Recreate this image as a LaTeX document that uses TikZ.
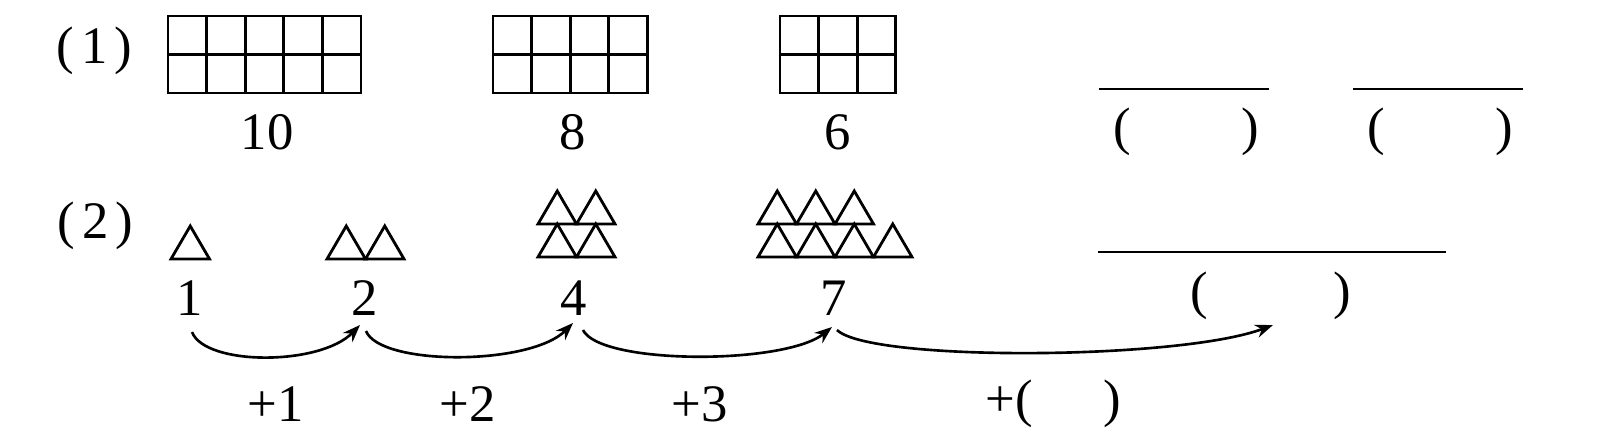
\documentclass[tikz,border=0pt]{standalone}
\usepackage{fontspec}
\setmainfont{Liberation Serif}
\usetikzlibrary{arrows.meta,calc}
\tikzset{
  lbl/.style={anchor=base,inner sep=0pt,font=\fontsize{30}{36}\selectfont},
  ink/.style={line width=1.6pt,line join=miter},
  arc/.style={line width=1.5pt,-{Stealth[length=10pt,width=7.5pt]}},
  blank/.style={line width=1.5pt}
}
\newcommand{\gridbox}[2]{%
  \draw[ink] (#1,16) rectangle ++(#2*38.6,77);
  \draw[ink] (#1,54.5) -- ++(#2*38.6,0);
  \foreach \i in {1,...,#2}{\ifnum\i<#2 \draw[ink] (#1+\i*38.6,16) -- ++(0,77);\fi}%
}
\newcommand{\tri}[2]{\draw[ink] (#1,#2) -- ++(38.5,0) -- ++(-19.25,-33) -- cycle;}
\begin{document}
\begin{tikzpicture}[x=0.02cm,y=-0.02cm]
\fill[white] (0,0) rectangle (1620,433);
\useasboundingbox (0,0) rectangle (1620,433);
% row 1
\node[lbl] (p1) at (94.5,63) {(\hspace{0.13em}1\hspace{0.13em})};
\gridbox{168}{5}
\gridbox{493}{4}
\gridbox{780}{3}
\node[lbl] (c10) at (267,149) {10};
\node[lbl] (c8) at (573,149) {8};
\node[lbl] (c6) at (838,149) {6};
\draw[blank] (1099,89) -- (1269,89);
\draw[blank] (1353,89) -- (1523,89);
\node[lbl] (b1) at (1186.5,144) {(\hspace{2.1em})};
\node[lbl] (b2) at (1440,144) {(\hspace{2.1em})};
% row 2
\node[lbl] (p2) at (95.5,238) {(\hspace{0.13em}2\hspace{0.13em})};
\tri{171}{259}
\tri{327}{259}\tri{365.5}{259}
\tri{538}{257}\tri{576.5}{257}
\tri{538}{224}\tri{576.5}{224}
\foreach \k in {0,1,2,3}{\tri{758+\k*38.5}{257}}
\foreach \k in {0,1,2}{\tri{758+\k*38.5}{224}}
\node[lbl] (n1) at (190,315) {1};
\node[lbl] (n2) at (365,315) {2};
\node[lbl] (n4) at (574,315) {4};
\node[lbl] (n7) at (834,315) {7};
\draw[blank] (1098,252) -- (1446,252);
\node[lbl] (b3) at (1271,308) {(\hspace{2.39em})};
\coordinate (ans) at (1273,325);
\draw[arc] ($(n1.base)+(2,17)$) .. controls +(13,34) and +(-40,41) .. ($(n2.base)+(-5,10)$);
\draw[arc] ($(n2.base)+(1,16)$) .. controls +(14,35) and +(-43,43) .. ($(n4.base)+(-1,8)$);
\draw[arc] ($(n4.base)+(9,15)$) .. controls +(17,35) and +(-47,38) .. ($(n7.base)+(-2,12)$);
\draw[arc] ($(n7.base)+(3,15)$) .. controls +(33,32) and +(-93,35) .. (ans);
\node[lbl] (d1) at (275.5,421) {+1};
\node[lbl] (d2) at (468,421) {+2};
\node[lbl] (d3) at (700,421) {+3};
\node[lbl] (d4) at (1053.5,416) {+(\hspace{1.35em})};
\end{tikzpicture}
\end{document}
